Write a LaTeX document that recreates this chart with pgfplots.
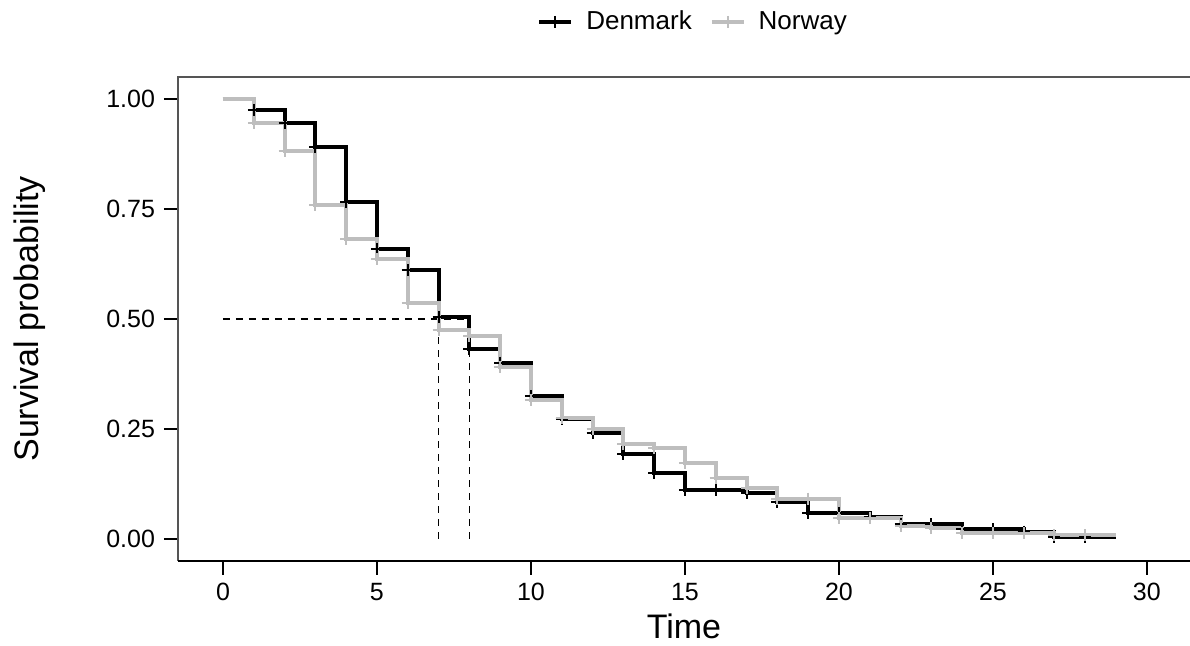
\documentclass[border=0pt]{standalone}
\usepackage{fontspec}
\setmainfont{Liberation Sans}
\usepackage{pgfplots}
\pgfplotsset{compat=1.18}
\usepackage{pgfplotstable}

\definecolor{nogray}{HTML}{BEBEBE}
\definecolor{axgray}{HTML}{555555}

% survival curves, value holds from x to next x
\pgfplotstableread{
t   s
0   1.000
1   0.975
2   0.945
3   0.892
4   0.767
5   0.658
6   0.611
7   0.504
8   0.431
9   0.401
10  0.325
11  0.273
12  0.241
13  0.194
14  0.151
15  0.111
16  0.111
17  0.105
18  0.085
19  0.060
20  0.058
21  0.050
22  0.033
23  0.033
24  0.022
25  0.022
26  0.017
27  0.004
28  0.004
29  0.004
}\denmark

\pgfplotstableread{
t   s
0   1.000
1   0.946
2   0.882
3   0.759
4   0.681
5   0.636
6   0.536
7   0.475
8   0.462
9   0.392
10  0.316
11  0.275
12  0.251
13  0.217
14  0.207
15  0.173
16  0.138
17  0.115
18  0.092
19  0.092
20  0.047
21  0.047
22  0.030
23  0.026
24  0.013
25  0.013
26  0.013
27  0.009
28  0.009
29  0.009
}\norway

\pgfplotsset{
  km/.style={const plot, line width=2pt, mark=+, mark size=3pt,
    mark options={solid, line width=1pt},
    mark indices={2,3,4,5,6,7,8,9,10,11,12,13,14,15,16,17,18,19,20,21,22,23,24,25,26,27,28,29}},
  med/.style={black, dashed, line width=0.8pt, dash pattern=on 3.5pt off 3pt},
}

\begin{document}
\begin{tikzpicture}
\path[use as bounding box] (-89pt,-42.5pt) rectangle (506pt,280.5pt);
\begin{axis}[
  at={(0,0)}, anchor=south west,
  scale only axis, width=506pt, height=242pt,
  xmin=-1.46, xmax=31.4, ymin=-0.05, ymax=1.05,
  xtick={0,5,...,30}, ytick={0,0.25,0.5,0.75,1},
  yticklabel style={/pgf/number format/fixed, /pgf/number format/fixed zerofill,
    /pgf/number format/precision=2, xshift=-1pt},
  /pgf/number format/assume math mode=true,
  tick label style={font=\fontsize{12.5}{14}\selectfont, black},
  xtick pos=bottom, ytick pos=left,
  tick align=outside, major tick length=7pt,
  tick style={black, line width=0.75pt},
  axis line style={draw=none},
  xticklabel style={yshift=-0.5pt},
  xlabel={Time}, ylabel={Survival probability},
  label style={font=\fontsize{17}{20}\selectfont},
  xlabel style={at={(axis description cs:0.5,-0.136)}, anchor=center},
  ylabel style={at={(axis description cs:-0.1462,0.5)}, anchor=center},
  legend style={at={(axis description cs:0.51,1)}, anchor=center, yshift=27.5pt,
    draw=none, fill=none, font=\fontsize{13}{15}\selectfont,
    legend columns=2,
    /tikz/every odd column/.append style={column sep=4.5pt},
    /tikz/every even column/.append style={column sep=7pt}},
  legend image code/.code={
    \draw[#1, mark indices={2}] plot coordinates {(0cm,0cm) (0.28cm,0cm) (0.56cm,0cm)};
  },
  clip=false,
]
\draw[axgray, line width=0.75pt] (rel axis cs:0,0) -- (rel axis cs:0,1) -- (rel axis cs:1,1);
\draw[black, line width=0.75pt] (rel axis cs:0,0) -- (rel axis cs:1,0);

\addplot[med, forget plot] coordinates {(0,0.5) (8,0.5)};
\addplot[med, forget plot] coordinates {(7,0) (7,0.5)};
\addplot[med, forget plot] coordinates {(8,0) (8,0.5)};

\addplot[km, black] table[x=t, y=s] {\denmark};
\addlegendentry{Denmark}
\addplot[km, nogray] table[x=t, y=s] {\norway};
\addlegendentry{Norway}
\end{axis}
\end{tikzpicture}
\end{document}
